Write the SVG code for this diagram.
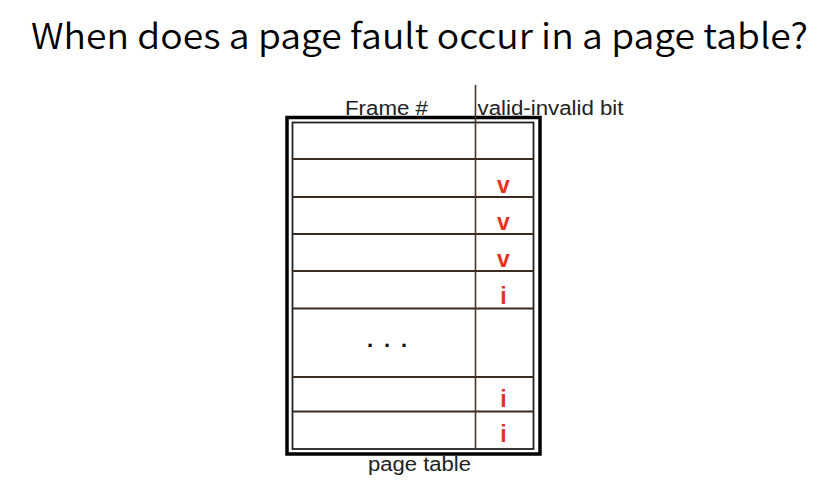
<svg xmlns="http://www.w3.org/2000/svg" width="823" height="486" viewBox="0 0 823 486">
  <style>
    .lbl { font-family: "Liberation Sans", Arial, sans-serif; font-size: 19.5px; fill: #222; }
    .bit { font-family: "Liberation Sans", Arial, sans-serif; font-size: 23px; font-weight: bold; fill: #e8321f; text-anchor: middle; }
    .row { stroke: #3d2a1e; stroke-width: 1.8; }
  </style>
  <rect width="823" height="486" fill="#ffffff"/>
  <g id="title">
    <text x="31" y="49" font-family="'Noto Sans CJK KR', 'Noto Sans', sans-serif" font-size="35" font-weight="350" fill="#000" textLength="777" lengthAdjust="spacingAndGlyphs">When does a page fault occur in a page table?</text>
  </g>
  <g id="headers">
    <text class="lbl" x="345" y="115" textLength="83" lengthAdjust="spacingAndGlyphs">Frame #</text>
    <text class="lbl" x="477.5" y="115" textLength="146" lengthAdjust="spacingAndGlyphs">valid-invalid bit</text>
  </g>
  <g id="page-table">
    <rect x="287" y="117.5" width="253" height="336.5" fill="none" stroke="#000" stroke-width="3.5"/>
    <rect x="292.5" y="122.5" width="241" height="326.5" fill="none" stroke="#222" stroke-width="1.8"/>
    <line class="row" x1="292.5" y1="159" x2="533.5" y2="159"/>
    <line class="row" x1="292.5" y1="197" x2="533.5" y2="197"/>
    <line class="row" x1="292.5" y1="234" x2="533.5" y2="234"/>
    <line class="row" x1="292.5" y1="271" x2="533.5" y2="271"/>
    <line class="row" x1="292.5" y1="308.5" x2="533.5" y2="308.5"/>
    <line class="row" x1="292.5" y1="377" x2="533.5" y2="377"/>
    <line class="row" x1="292.5" y1="411.5" x2="533.5" y2="411.5"/>
    <line x1="475.5" y1="85" x2="475.5" y2="449" stroke="#4a3628" stroke-width="1.6"/>
  </g>
  <g id="bits">
    <text class="bit" x="503.5" y="193">v</text>
    <text class="bit" x="503.5" y="230">v</text>
    <text class="bit" x="503.5" y="267">v</text>
    <text class="bit" x="503.5" y="304">i</text>
    <text class="bit" x="503.5" y="407">i</text>
    <text class="bit" x="503.5" y="442">i</text>
  </g>
  <g id="ellipsis">
    <text x="367" y="347" font-family="'Liberation Sans', Arial, sans-serif" font-size="22" font-weight="bold" fill="#111" textLength="40" lengthAdjust="spacing">. . .</text>
  </g>
  <g id="caption">
    <text class="lbl" x="368" y="471" textLength="103" lengthAdjust="spacingAndGlyphs">page table</text>
  </g>
</svg>
